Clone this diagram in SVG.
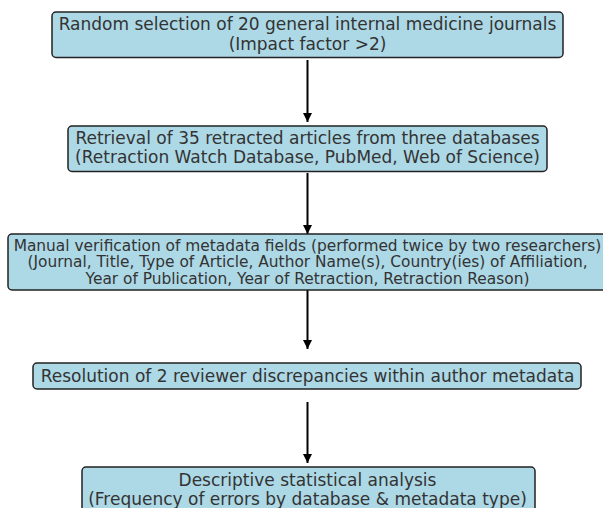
<svg xmlns="http://www.w3.org/2000/svg" width="603" height="508" viewBox="0 0 603 508">
<defs>
<style>
.box{fill:#add8e6;stroke:#222;stroke-width:1.5}
.t{font-family:"DejaVu Sans",sans-serif;font-size:17px;fill:#333;text-anchor:middle}
.s{font-size:15.4px}
.c{stroke:#000;stroke-width:2;fill:none}
</style>
<marker id="ah" viewBox="0 0 10 10" refX="10" refY="5" markerWidth="10" markerHeight="9" markerUnits="userSpaceOnUse" orient="auto">
<path d="M0,0 L10,5 L0,10 z" fill="#000"/>
</marker>
</defs>
<rect width="603" height="508" fill="#fff"/>
<g id="connectors">
<line class="c" x1="307.5" y1="60" x2="307.5" y2="122" marker-end="url(#ah)"/>
<line class="c" x1="307.5" y1="173" x2="307.5" y2="234" marker-end="url(#ah)"/>
<line class="c" x1="307.5" y1="289" x2="307.5" y2="349" marker-end="url(#ah)"/>
<line class="c" x1="307.5" y1="402" x2="307.5" y2="463" marker-end="url(#ah)"/>
</g>
<g id="n1">
<rect class="box" x="52" y="12" width="511" height="45.5" rx="4"/>
<text class="t" x="307.5" y="30">Random selection of 20 general internal medicine journals</text>
<text class="t" x="307.5" y="49.5">(Impact factor &gt;2)</text>
</g>
<g id="n2">
<rect class="box" x="68" y="126" width="479" height="45.5" rx="4"/>
<text class="t" x="307.5" y="143.5">Retrieval of 35 retracted articles from three databases</text>
<text class="t" x="307.5" y="163">(Retraction Watch Database, PubMed, Web of Science)</text>
</g>
<g id="n3">
<rect class="box" x="8" y="234" width="600" height="56" rx="4"/>
<text class="t s" x="307.5" y="250.5">Manual verification of metadata fields (performed twice by two researchers)</text>
<text class="t s" x="307.5" y="267">(Journal, Title, Type of Article, Author Name(s), Country(ies) of Affiliation,</text>
<text class="t s" x="307.5" y="283.5">Year of Publication, Year of Retraction, Retraction Reason)</text>
</g>
<g id="n4">
<rect class="box" x="33" y="363" width="548" height="26" rx="4"/>
<text class="t" x="307.5" y="382">Resolution of 2 reviewer discrepancies within author metadata</text>
</g>
<g id="n5">
<rect class="box" x="82" y="467" width="453" height="56" rx="4"/>
<text class="t" x="307.5" y="485.5">Descriptive statistical analysis</text>
<text class="t" x="307.5" y="504.5">(Frequency of errors by database &amp; metadata type)</text>
</g>
</svg>
